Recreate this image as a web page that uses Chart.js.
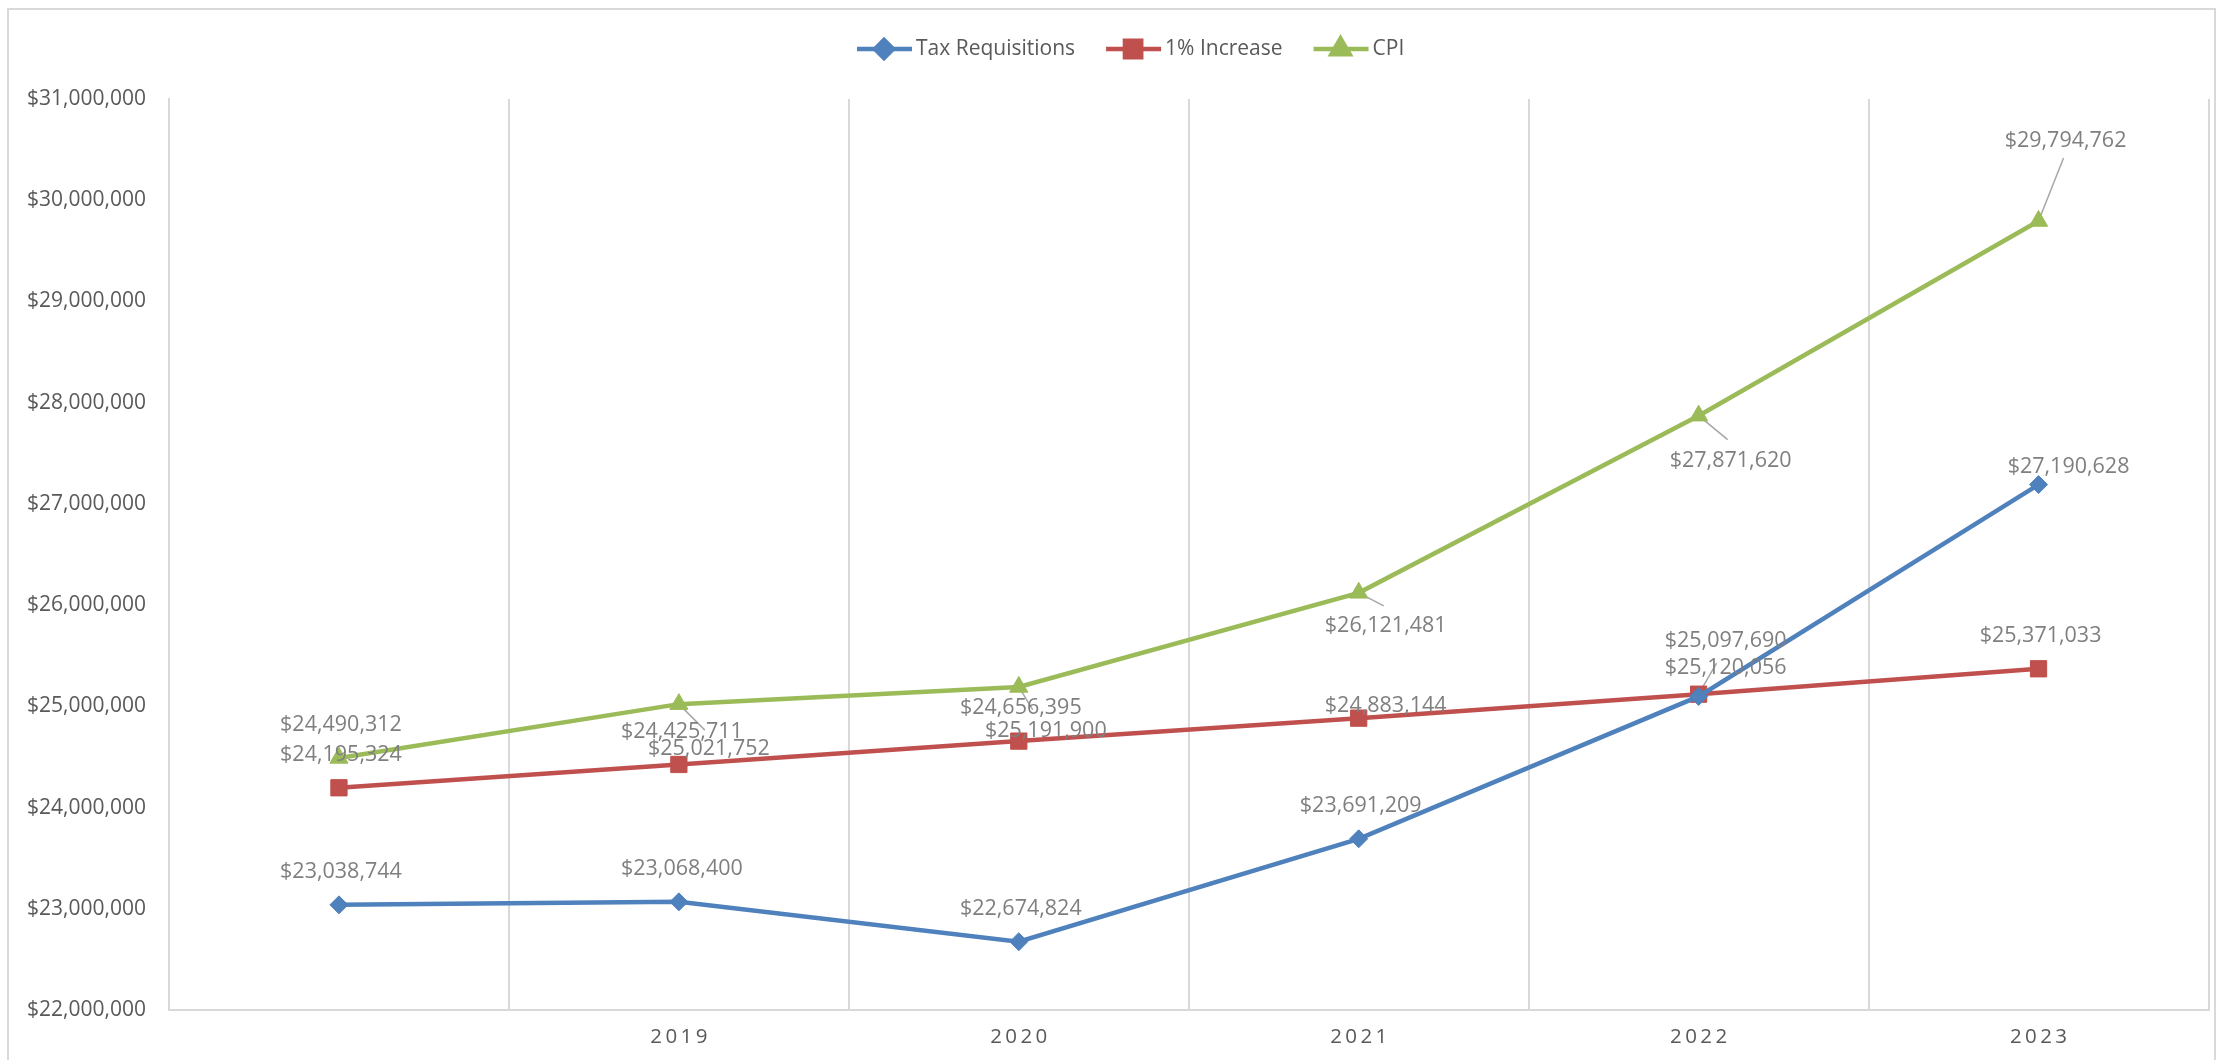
<!DOCTYPE html>
<html>
<head>
<meta charset="utf-8">
<script src="https://cdn.jsdelivr.net/npm/chart.js@4.4.1/dist/chart.umd.min.js"></script>
<style>
    html, body { margin: 0; padding: 0; background: #fff; }
    #wrap { position: relative; width: 2221px; height: 1060px; }
</style>
</head>
<body>
<div id="wrap"><canvas id="chart" width="2221" height="1060"></canvas></div>
<script>
// data
const years = ['', '2019', '2020', '2021', '2022', '2023'];
const taxRequisitions = [23038744, 23068400, 22674824, 23691209, 25097690, 27190628];
const onePercentIncrease = [24195324, 24425711, 24656395, 24883144, 25120056, 25371033];
const cpi = [24490312, 25021752, 25191900, 26121481, 27871620, 29794762];
const yMin = 22000000;
const yMax = 31000000;
const yStep = 1000000;

// where Excel put each data label, relative to its point (px)
const labelOffsets = [
    [[2, -33], [3, -33], [2, -33], [2, -33], [27, -56], [30, -18]],
    [[2, -33], [3, -33], [2, -33], [27, -12], [27, -26], [2, -33]],
    [[2, -33], [30, 45], [27, 44], [27, 33], [32, 45], [27, -80]]
];
// leader line ends, relative to label centre (null = no leader)
const leaderEnds = [
    [null, null, null, null, null, null],
    [null, null, null, null, [-9, -5], null],
    [null, [-4, -19], [-13, -21], [-2, -20], [-3, -21], [-2, 17]]
];

const FONT = "'Open Sans', 'DejaVu Sans', sans-serif";
const money = v => '$' + Math.round(v).toLocaleString('en-US');

const frame = {
    id: 'frame',
    beforeDraw(chart) {
        const ctx = chart.ctx;
        ctx.save();
        ctx.strokeStyle = '#d9d9d9';
        ctx.lineWidth = 2;
        ctx.strokeRect(8, 9, 2207, 1100);
        ctx.restore();
    }
};

const leaders = {
    id: 'leaders',
    beforeDatasetsDraw(chart) {
        const ctx = chart.ctx;
        ctx.save();
        ctx.strokeStyle = '#a6a6a6';
        ctx.lineWidth = 1.5;
        chart.data.datasets.forEach((ds, di) => {
            chart.getDatasetMeta(di).data.forEach((pt, i) => {
                const end = leaderEnds[di][i];
                if (!end) return;
                const off = labelOffsets[di][i];
                ctx.beginPath();
                ctx.moveTo(pt.x, pt.y);
                ctx.lineTo(pt.x + off[0] + end[0], pt.y + off[1] + end[1]);
                ctx.stroke();
            });
        });
        ctx.restore();
    }
};

const dataLabels = {
    id: 'dataLabels',
    afterDatasetsDraw(chart) {
        const ctx = chart.ctx;
        ctx.save();
        ctx.font = '21.5px ' + FONT;
        ctx.fillStyle = '#7f7f7f';
        ctx.textAlign = 'center';
        ctx.textBaseline = 'middle';
        chart.data.datasets.forEach((ds, di) => {
            chart.getDatasetMeta(di).data.forEach((pt, i) => {
                const off = labelOffsets[di][i];
                ctx.fillText(money(ds.data[i]), pt.x + off[0], pt.y + off[1]);
            });
        });
        ctx.restore();
    }
};

const legendLine = {
    id: 'legendLine',
    afterDraw(chart) {
        const ctx = chart.ctx;
        let x = 857;
        const y = 49;
        ctx.save();
        ctx.font = '21px ' + FONT;
        ctx.textBaseline = 'middle';
        ctx.textAlign = 'left';
        chart.data.datasets.forEach(ds => {
            ctx.strokeStyle = ds.borderColor;
            ctx.lineWidth = 4.5;
            ctx.beginPath();
            ctx.moveTo(x, y);
            ctx.lineTo(x + 55, y);
            ctx.stroke();
            ctx.fillStyle = ds.pointBackgroundColor;
            ctx.strokeStyle = ds.borderColor;
            Chart.helpers.drawPoint(ctx, {
                pointStyle: ds.pointStyle, radius: ds.pointRadius, rotation: 0, borderWidth: 1
            }, x + 27, y);
            ctx.fillStyle = '#595959';
            ctx.fillText(ds.label, x + 59, y);
            x += 59 + ctx.measureText(ds.label).width + 31;
        });
        ctx.restore();
    }
};

function series(label, data, color, style, radius) {
    return {
        label: label,
        data: data,
        borderColor: color,
        backgroundColor: color,
        pointBackgroundColor: color,
        pointBorderColor: color,
        pointStyle: style,
        pointRadius: radius,
        pointHoverRadius: radius,
        pointBorderWidth: 1,
        borderWidth: 4.5,
        tension: 0,
        fill: false
    };
}

new Chart(document.getElementById('chart').getContext('2d'), {
    type: 'line',
    data: {
        labels: years,
        datasets: [
            series('Tax Requisitions', taxRequisitions, '#4f81bd', 'rectRot', 9),
            series('1% Increase', onePercentIncrease, '#c0504d', 'rect', 11.5),
            series('CPI', cpi, '#9bbb59', 'triangle', 10.5)
        ]
    },
    options: {
        responsive: false,
        devicePixelRatio: 1,
        animation: false,
        layout: { padding: { top: 99, right: 10, left: 0, bottom: 0 } },
        plugins: {
            legend: { display: false },
            tooltip: { enabled: false }
        },
        scales: {
            x: {
                offset: true,
                grid: { offset: true, color: '#d9d9d9', lineWidth: 2, drawTicks: false },
                border: { color: '#d9d9d9', width: 2 },
                ticks: {
                    padding: 15,
                    color: '#595959',
                    font: { family: FONT, size: 20.5 },
                    maxRotation: 0,
                    autoSkip: false,
                    callback: function (v) { return this.getLabelForValue(v).split('').join('\u2009'); }
                },
                afterFit: s => { s.height = 50; }
            },
            y: {
                min: yMin,
                max: yMax,
                grid: { display: false, drawTicks: false },
                border: { display: true, color: '#d9d9d9', width: 2 },
                ticks: {
                    stepSize: yStep,
                    padding: 23,
                    color: '#595959',
                    font: { family: FONT, size: 21 },
                    callback: v => money(v)
                },
                afterFit: s => { s.width = 169; }
            }
        }
    },
    plugins: [frame, leaders, dataLabels, legendLine]
});
</script>
</body>
</html>
